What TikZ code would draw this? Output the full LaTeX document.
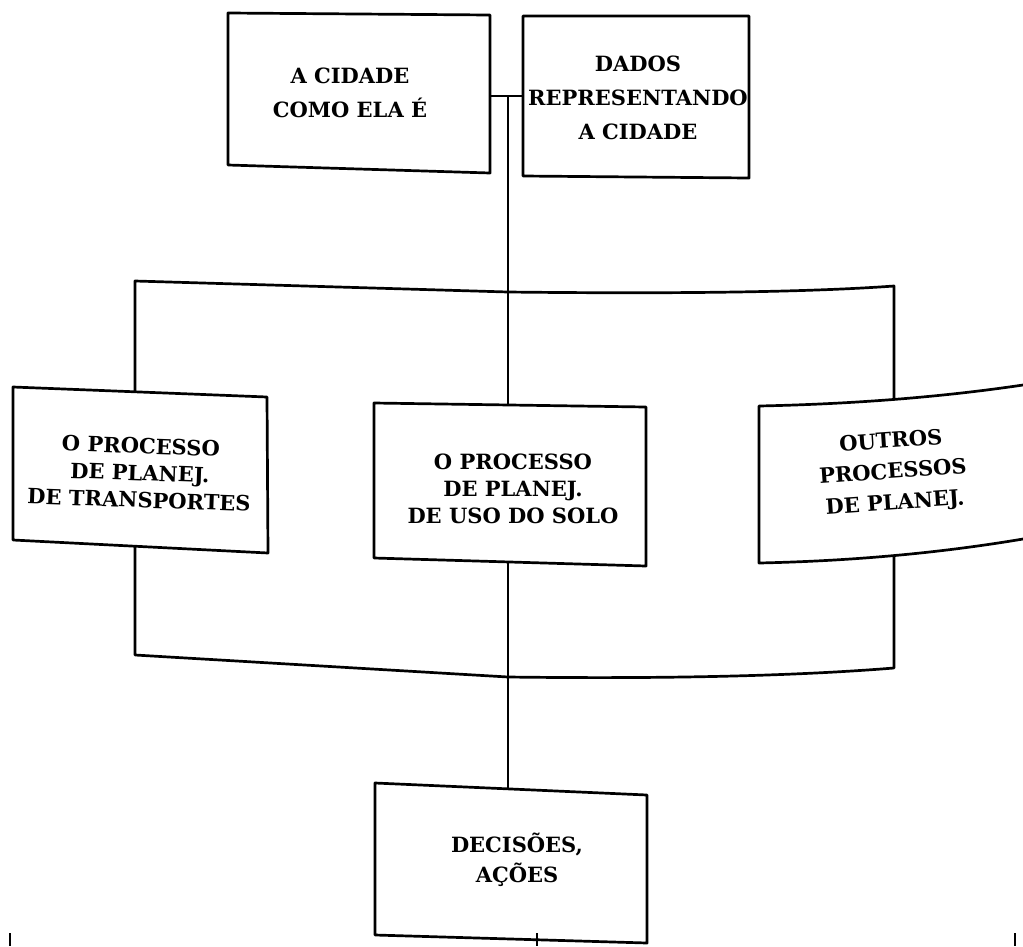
\documentclass[tikz,border=0pt]{standalone}
\usepackage{fontspec}
\setmainfont{DejaVu Serif}
\usetikzlibrary{positioning}

\begin{document}
\begin{tikzpicture}[
        x=1pt, y=-1pt,
        every node/.style={font=\bfseries\fontsize{21}{27}\selectfont, align=center, inner sep=0pt},
        wide/.style={font=\bfseries\fontsize{21}{34}\selectfont},
        box/.style={line width=2.7pt, line join=round},
        link/.style={line width=2.2pt},
        tick/.style={line width=1.2pt}
    ]
        \useasboundingbox (0,0) rectangle (1023,946);

        \draw[box] (228,13) -- (490,15) -- (490,173) -- (228,165) -- cycle;
        \draw[box] (523,16) -- (749,16) -- (749,178) -- (523,176) -- cycle;
        \draw[box] (13,387) -- (267,397) -- (268,553) -- (13,540) -- cycle;
        \draw[box] (374,403) -- (646,407) -- (646,566) -- (374,558) -- cycle;
        \draw[box] (1023,385) .. controls (942,397) and (854,404) .. (759,406) -- (759,563) .. controls (852,561) and (940,553) .. (1023,539);
        \draw[box] (375,783) -- (647,795) -- (647,943) -- (375,935) -- cycle;

        \node[wide] (cidade) at (350,93) {A CIDADE\\COMO ELA É};
        \node[wide] (dados) at (638,98) {DADOS\\REPRESENTANDO\\A CIDADE};
        \node[rotate=-2] (transp) at (140,473) {O PROCESSO\\DE PLANEJ.\\DE TRANSPORTES};
        \node (uso) at (513,489) {O PROCESSO\\DE PLANEJ.\\DE USO DO SOLO};
        \node[rotate=4, font=\bfseries\fontsize{21}{31}\selectfont] (outros) at (893,473) {OUTROS\\PROCESSOS\\DE PLANEJ.};
        \node[font=\bfseries\fontsize{21}{30}\selectfont] (decisoes) at (517,860) {DECISÕES,\\AÇÕES};

        \coordinate (cidade-r) at (490,96);
        \coordinate (dados-l) at (523,96);
        \coordinate (jn) at (508,96);
        \coordinate (uso-t) at (508,405);
        \coordinate (uso-b) at (508,563);
        \coordinate (decisoes-t) at (508,789);
        \coordinate (transp-t) at (135,392);
        \coordinate (transp-b) at (135,546);
        \coordinate (outros-t) at (894,399);
        \coordinate (outros-b) at (894,557);

        \draw[link] (cidade-r) -- (dados-l);
        \draw[link] (jn) -- (uso-t);
        \draw[link] (uso-b) -- (decisoes-t);
        \draw[box] (transp-t) -- (135,281) -- (508,292) .. controls (683,294) and (812,292) .. (894,286) -- (outros-t);
        \draw[box] (transp-b) -- (135,655) -- (508,677) .. controls (667,679) and (795,676) .. (894,668) -- (outros-b);

        \draw[tick] (10,933) -- (10,946);
        \draw[tick] (537,933) -- (537,946);
        \draw[tick] (1015,933) -- (1015,946);

    \end{tikzpicture}
\end{document}
